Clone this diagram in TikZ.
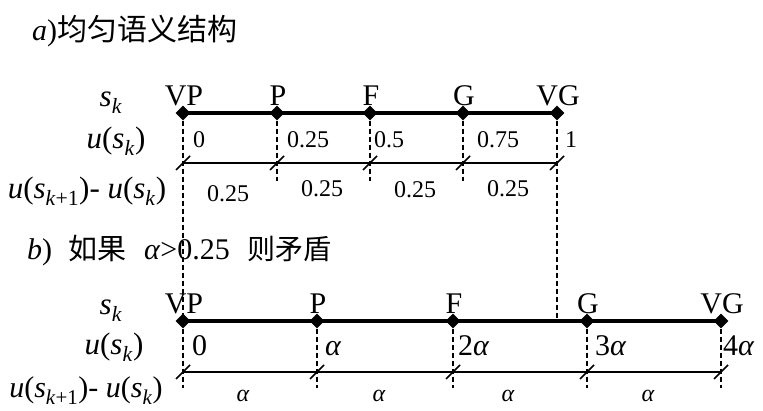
\documentclass[tikz,border=0pt]{standalone}
\usepackage{fontspec}
\setmainfont{Liberation Serif}
\newfontfamily\cjk{Noto Sans CJK SC}
\usetikzlibrary{shapes.geometric}
\newcommand{\Sk}{\textit{s}\textsubscript{\textit{k}}}
\newcommand{\USk}{\textit{u}(\Sk)}
\newcommand{\Diff}{\textit{u}(\textit{s}\textsubscript{\textit{k}+1})- \textit{u}(\Sk)}
\newcommand{\al}{\textit{α}}
\tikzset{
  pt/.style={diamond,fill=black,draw=none,inner sep=0pt,minimum width=15pt,minimum height=15pt},
  axisline/.style={line width=3.6pt},
  dimline/.style={line width=1.8pt},
  guide/.style={line width=1.3pt,dash pattern=on 5pt off 3pt},
  tick/.style={line width=1.6pt},
  lab/.style={inner sep=0pt,font=\fontsize{31}{33}\selectfont},
  big/.style={inner sep=0pt,font=\fontsize{30}{32}\selectfont},
  val/.style={inner sep=0pt,anchor=base west,font=\fontsize{24}{26}\selectfont},
  bval/.style={inner sep=0pt,anchor=base west,font=\fontsize{30}{32}\selectfont},
  dif/.style={inner sep=0pt,anchor=base,font=\fontsize{24}{26}\selectfont},
  title/.style={inner sep=0pt,anchor=base west,font=\fontsize{30}{32}\selectfont},
}
\begin{document}
\begin{tikzpicture}[x=1pt,y=-1pt]
\useasboundingbox (0,0) rectangle (763,411);
% titles
\node[title] (ta) at (32,41) {\textit{a})\cjk 均匀语义结构};
\node[title] (tb) at (27,260) {\textit{b})\hspace{16pt}{\cjk\fontsize{29}{31}\selectfont 如果}\hspace{18pt}\al>0.25\hspace{18pt}{\cjk\fontsize{28}{30}\selectfont 则矛盾}};
% ---------- part a
\node[lab,anchor=base] (la1) at (111,107) {\Sk};
\node[lab,anchor=base] (la2) at (116,149) {\USk};
\node[lab,anchor=base] (la3) at (87,199) {\Diff};
\foreach \n/\x/\t in {1/183/VP,2/277/P,3/370/F,4/463/G,5/557/VG}{
  \node[pt] (a\n) at (\x,113) {};
  \node[big,anchor=base] (na\n) at (\x+1,106) {\t};
  \coordinate (da\n) at (\x,163);
}
\draw[axisline] (a1.center) -- (a5.center);
\draw[dimline] (da1) -- (da5);
\foreach \n in {1,...,5}{
  \draw[tick] ([shift={(-7pt,-7pt)}]da\n) -- ([shift={(7pt,7pt)}]da\n);
}
% guides
\coordinate (ea2) at (277,181);
\coordinate (ea3) at (370,181);
\coordinate (ea4) at (463,181);
\draw[guide] (a2) -- (ea2);
\draw[guide] (a3) -- (ea3);
\draw[guide] (a4) -- (ea4);
% values
\node[val] (va1) at (193,148) {0};
\node[val] (va2) at (287,148) {0.25};
\node[val] (va3) at (374,148) {0.5};
\node[val] (va4) at (477,148) {0.75};
\node[val] (va5) at (565,148) {1};
\node[dif] (fa1) at (228,202) {0.25};
\node[dif] (fa2) at (322,197) {0.25};
\node[dif] (fa3) at (415,198) {0.25};
\node[dif] (fa4) at (508,197) {0.25};
% ---------- part b
\node[lab,anchor=base] (lb1) at (111,315) {\Sk};
\node[lab,anchor=base] (lb2) at (114,355) {\USk};
\node[lab,anchor=base,font=\fontsize{30}{32}\selectfont] (lb3) at (86,398) {\Diff};
\foreach \n/\x/\t in {1/183/VP,2/317/P,3/453/F,4/587/G,5/721/VG}{
  \node[pt] (b\n) at (\x,321) {};
  \node[big,anchor=base] (nb\n) at (\x+1,314) {\t};
  \coordinate (db\n) at (\x,372);
  \coordinate (eb\n) at (\x,388);
}
\draw[axisline] (b1.center) -- (b5.center);
\draw[dimline] (db1) -- (db5);
\foreach \n in {1,...,5}{
  \draw[tick] ([shift={(-7pt,-7pt)}]db\n) -- ([shift={(7pt,7pt)}]db\n);
}
\foreach \n in {2,...,5}{ \draw[guide] (b\n) -- (eb\n); }
% long guides
\draw[guide] (a1) -- (eb1);
\coordinate (vgcut) at (557,321);
\draw[guide] (a5) -- (vgcut);
% values
\node[bval] (vb1) at (192,356) {0};
\node[bval] (vb2) at (325,356) {\al};
\node[bval] (vb3) at (458,356) {2\al};
\node[bval] (vb4) at (595,356) {3\al};
\node[bval] (vb5) at (723,356) {4\al};
\node[dif] (fb1) at (243,402) {\al};
\node[dif] (fb2) at (379,402) {\al};
\node[dif] (fb3) at (508,402) {\al};
\node[dif] (fb4) at (648,402) {\al};
\end{tikzpicture}
\end{document}
